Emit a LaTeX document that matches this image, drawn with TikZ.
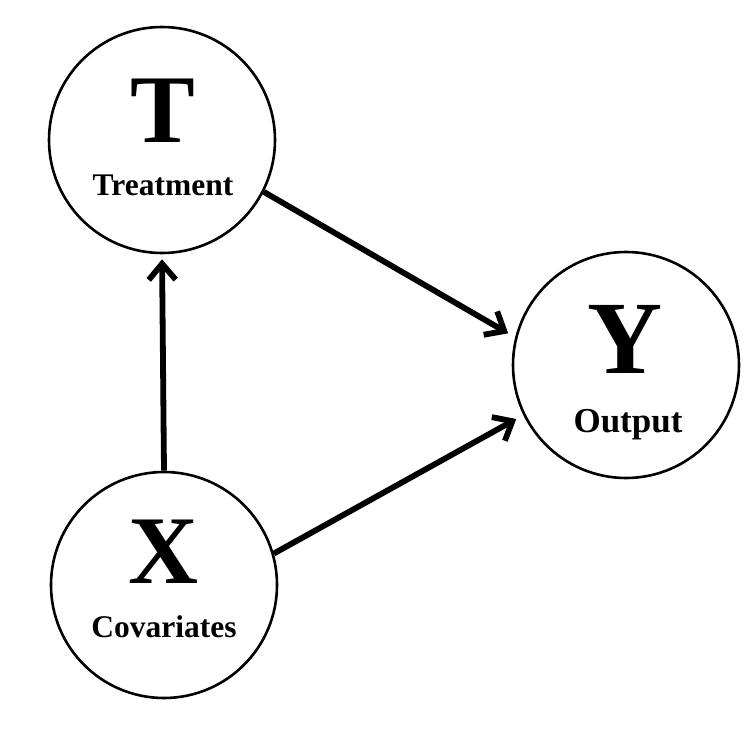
\documentclass[tikz,border=0pt]{standalone}
\usepackage{fontspec}
\setmainfont{Liberation Serif}
\usetikzlibrary{arrows.meta}
\begin{document}
\begin{tikzpicture}[x=1pt,y=-1pt,
  varcircle/.style={draw, circle, line width=2.6pt, minimum size=226pt, inner sep=0pt},
  bigletter/.style={anchor=base, inner sep=0pt, font=\bfseries\fontsize{97}{97}\selectfont},
  caption/.style={anchor=base, inner sep=0pt, font=\bfseries\fontsize{31.5}{31.5}\selectfont},
  edge/.style={line width=5.8pt, -{Straight Barb[length=16pt,width=27pt,line cap=butt,line join=miter]}}
]
\useasboundingbox (0,0) rectangle (754,728);
\node[varcircle] (T) at (162,140) {};
\node[varcircle] (X) at (164,585) {};
\node[varcircle] (Y) at (626,365) {};
\node[bigletter] (Tl) at (163,142) {T};
\node[caption] (Tc) at (163,195) {Treatment};
\node[bigletter] (Xl) at (164,583) {X};
\node[caption] (Xc) at (164,637) {Covariates};
\node[bigletter, font=\bfseries\fontsize{104}{104}\selectfont] (Yl) at (625,373) {Y};
\node[caption, font=\bfseries\fontsize{35}{35}\selectfont] (Yc) at (628,432) {Output};
\draw[edge, shorten >=5pt] (X.90) -- (T.-90);
\draw[edge, shorten >=8pt] (T.-27.7) -- (Y.166);
\draw[edge, shorten >=8pt] (X.16) -- (Y.-154.5);
\end{tikzpicture}
\end{document}
